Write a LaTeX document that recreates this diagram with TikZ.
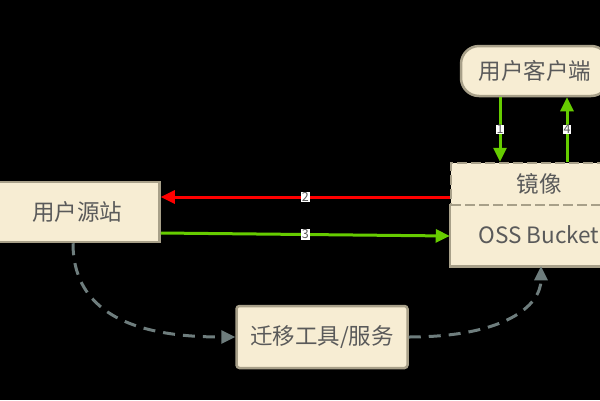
\documentclass[tikz,border=0pt]{standalone}
\usepackage{fontspec}
\setmainfont{Noto Sans CJK SC}
\usetikzlibrary{arrows.meta,calc}
\definecolor{boxfill}{HTML}{F7EDD3}
\definecolor{boxline}{HTML}{A8A089}
\definecolor{txt}{HTML}{5A5A5A}
\definecolor{grn}{HTML}{66CC00}
\definecolor{rd}{HTML}{FF0000}
\definecolor{dgray}{HTML}{6E7D7D}
\begin{document}
\begin{tikzpicture}[x=1pt,y=-1pt,
  box/.style={fill=boxfill,draw=boxline,line width=2.5pt,text=txt,font=\fontsize{22.5}{26}\selectfont,inner sep=0pt},
  lbl/.style={fill=white,text=txt,font=\fontsize{12.5}{13}\selectfont,inner xsep=1pt,inner ysep=0.5pt},
  garrow/.style={draw=grn,line width=3pt,-{Triangle[length=14pt,width=13pt]}},
  rarrow/.style={draw=rd,line width=3pt,-{Triangle[length=14pt,width=13pt]}},
  darrow/.style={draw=dgray,line width=3pt,dash pattern=on 12pt off 8pt,-{Triangle[length=14pt,width=13pt]}}]
\fill[black] (0,0) rectangle (600,400);
\useasboundingbox (0,0) rectangle (600,400);
\clip (0,0) rectangle (600,400);
% nodes
\node[box,rounded corners=18pt,minimum width=148pt,minimum height=50pt] (client) at (535,71) {用户客户端};
\node[box,minimum width=165pt,minimum height=60pt] (src) at (77,212) {用户源站};
\node[box,rounded corners=3pt,minimum width=171pt,minimum height=62pt] (mig) at (322,337) {迁移工具/服务};
\node[box,draw=none,minimum width=176pt,minimum height=60pt] (oss) at (539,235) {OSS Bucket};
\draw[boxline,line width=2.5pt] (oss.north west) -- (oss.south west) -- (oss.south east) -- (oss.north east);
\node[box,dash pattern=on 10pt off 4pt,minimum width=176pt,minimum height=42pt] (mirror) at (539,184) {镜像};
% connectors
\draw[garrow] ([xshift=-35pt]client.south) -- node[lbl,pos=0.5]{1} ([xshift=-39pt]mirror.north);
\draw[garrow] ([xshift=28pt]mirror.north) -- node[lbl,pos=0.5]{4} ([xshift=32pt]client.south);
\draw[rarrow] ([yshift=-13pt]mirror.west) -- node[lbl,pos=0.5]{2} (src.east |- {(0,197)});
\draw[garrow] (src.east |- {(0,233)}) -- node[lbl,pos=0.5]{3} ([yshift=-1pt]oss.west);
\draw[darrow] ([xshift=-4pt]src.south) .. controls ($([xshift=-4pt]src.south)+(0,85)$) and ($(mig.west)+(-70,0)$) .. (mig.west);
\draw[darrow] (mig.east) .. controls ($(mig.east)+(95,0)$) and ($(oss.south)+(2,40)$) .. ([xshift=2pt]oss.south);
\end{tikzpicture}
\end{document}
